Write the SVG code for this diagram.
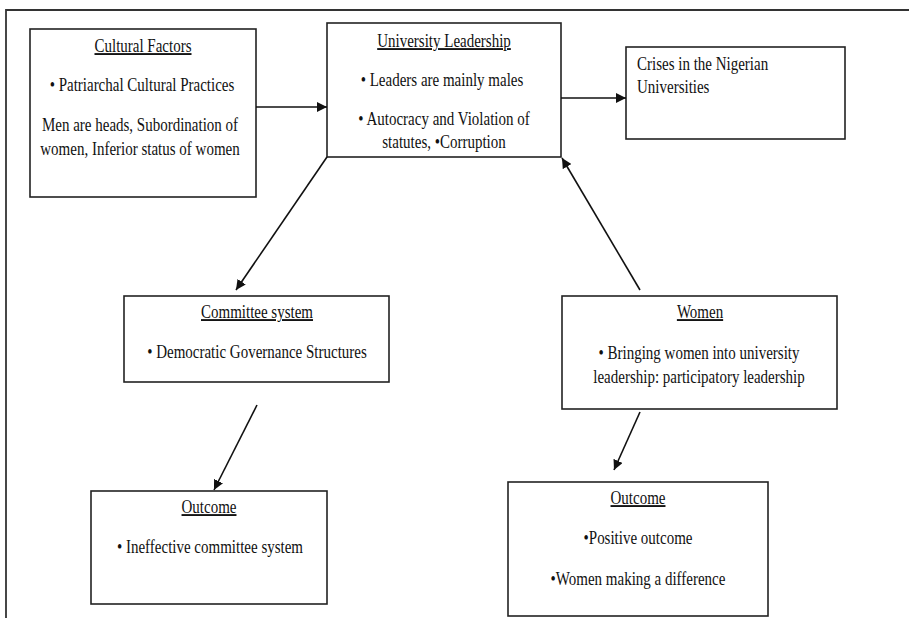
<svg xmlns="http://www.w3.org/2000/svg" width="909" height="618" viewBox="0 0 909 618">
<style>
.box{fill:#fff;stroke:#222;stroke-width:1.6}
.frame{fill:none;stroke:#333;stroke-width:1.8}
text{font-family:"Liberation Serif","Times New Roman",serif;font-size:15px;fill:#111}
.c{text-anchor:middle}
.u{text-decoration:underline}
.edge{stroke:#111;stroke-width:1.6;fill:none;marker-end:url(#ah)}
</style>
<defs>
<marker id="ah" viewBox="0 0 10 10" refX="10" refY="5" markerWidth="10" markerHeight="10" markerUnits="userSpaceOnUse" orient="auto">
<path d="M0,0 L10,5 L0,10 z" fill="#111"/>
</marker>
</defs>
<rect width="909" height="618" fill="#fff"/>
<path class="frame" d="M6,620 V10 H911"/>
<g id="cultural">
<rect class="box" x="30" y="29" width="226" height="168"/>
<text class="c u" transform="translate(143 52) scale(1 1.25)">Cultural Factors</text>
<text class="c" transform="translate(142 91) scale(1 1.25)">• Patriarchal Cultural Practices</text>
<text class="c" transform="translate(140 131) scale(1 1.25)">Men are heads, Subordination of</text>
<text class="c" transform="translate(140 155) scale(1 1.25)">women, Inferior status of women</text>
</g>
<g id="leadership">
<rect class="box" x="327" y="23" width="234" height="134"/>
<text class="c u" transform="translate(444 47) scale(1 1.25)">University Leadership</text>
<text class="c" transform="translate(442 86) scale(1 1.25)">•  Leaders are mainly males</text>
<text class="c" transform="translate(444 125) scale(1 1.25)">• Autocracy and Violation of</text>
<text class="c" transform="translate(444 148) scale(1 1.25)">statutes, •Corruption</text>
</g>
<g id="crises">
<rect class="box" x="626" y="47" width="219" height="92"/>
<text transform="translate(637 70) scale(1 1.25)">Crises in the Nigerian</text>
<text transform="translate(637 93) scale(1 1.25)">Universities</text>
</g>
<g id="committee">
<rect class="box" x="124" y="296" width="265" height="86"/>
<text class="c u" transform="translate(257 318) scale(1 1.25)">Committee system</text>
<text class="c" transform="translate(257 358) scale(1 1.25)">• Democratic Governance Structures</text>
</g>
<g id="women">
<rect class="box" x="562" y="296" width="275" height="113"/>
<text class="c u" transform="translate(700 318) scale(1 1.25)">Women</text>
<text class="c" transform="translate(699 359) scale(1 1.25)">• Bringing women into university</text>
<text class="c" transform="translate(699 383) scale(1 1.25)">leadership: participatory leadership</text>
</g>
<g id="outcome1">
<rect class="box" x="91" y="491" width="236" height="113"/>
<text class="c u" transform="translate(209 513) scale(1 1.25)">Outcome</text>
<text class="c" transform="translate(210 553) scale(1 1.25)">• Ineffective committee system</text>
</g>
<g id="outcome2">
<rect class="box" x="508" y="482" width="260" height="134"/>
<text class="c u" transform="translate(638 504) scale(1 1.25)">Outcome</text>
<text class="c" transform="translate(638 544) scale(1 1.25)">•Positive outcome</text>
<text class="c" transform="translate(638 585) scale(1 1.25)">•Women making a difference</text>
</g>
<g id="connectors">
<line class="edge" x1="256" y1="107" x2="327" y2="107"/>
<line class="edge" x1="561" y1="98" x2="626" y2="98"/>
<line class="edge" x1="327" y1="157" x2="236" y2="290"/>
<line class="edge" x1="640" y1="290" x2="562" y2="158"/>
<line class="edge" x1="257" y1="405" x2="214" y2="490"/>
<line class="edge" x1="640" y1="412" x2="614" y2="470"/>
</g>
</svg>
